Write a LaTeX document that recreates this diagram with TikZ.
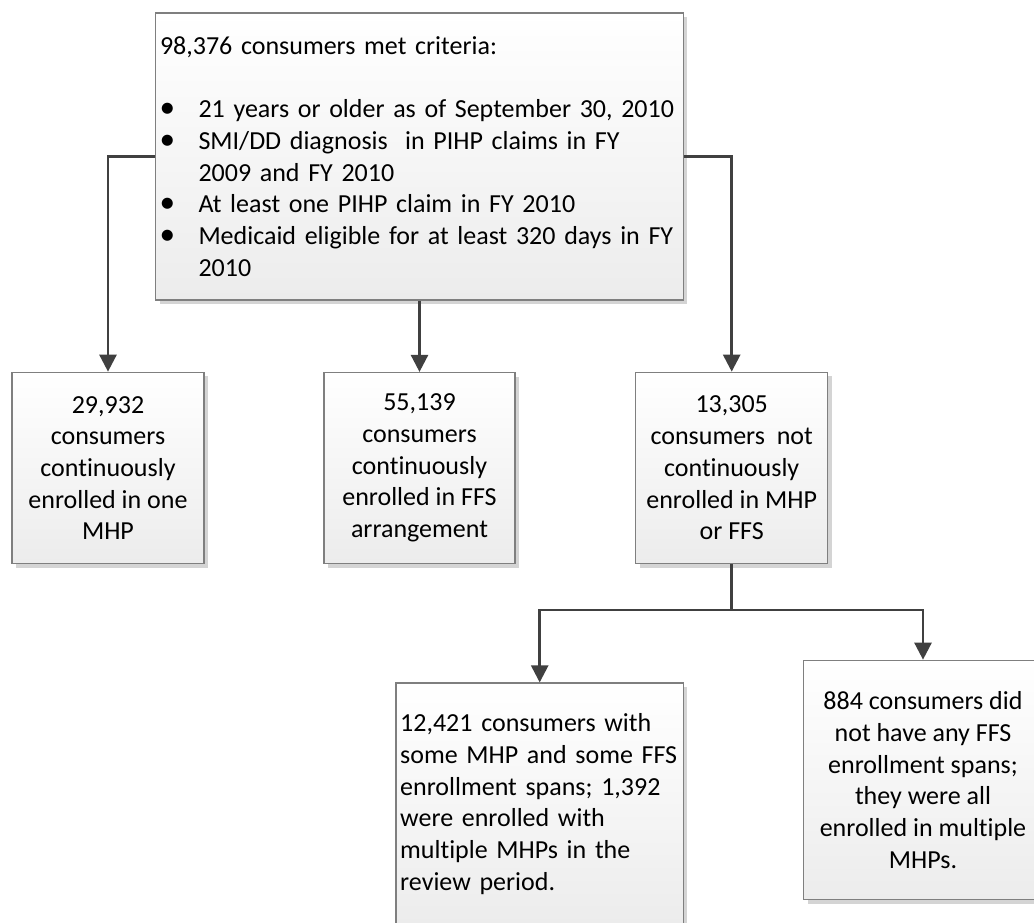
\documentclass[tikz,border=0pt]{standalone}
\usepackage{fontspec}
\setmainfont{Carlito}[Ligatures={NoCommon}]
\usetikzlibrary{arrows.meta,shadows}
\definecolor{connc}{HTML}{404040}
\definecolor{borderc}{HTML}{7F7F7F}
\definecolor{shadc}{HTML}{D4D4D4}
\definecolor{fillbot}{HTML}{ECECEC}
\newcommand{\bulitem}{\makebox[38.5pt][l]{\hspace{-0.5pt}\scalebox{1.2}{\textbullet}}}
\newcommand{\contind}{\hspace*{38.5pt}}
\begin{document}
\begin{tikzpicture}[x=1pt,y=-1pt,
  box/.style={rectangle, draw=borderc, line width=1.2pt, top color=white, bottom color=fillbot,
    drop shadow={shadow xshift=4pt,shadow yshift=-4pt,fill=shadc,opacity=1},
    inner sep=4pt, font=\fontsize{26}{31.7}\selectfont},
  conn/.style={draw=connc, line width=2.6pt, -{Triangle[width=17pt,length=17pt]}}]
\clip (0,0) rectangle (1034,922);
\fill[white] (0,0) rectangle (1034,922);
\node[box, minimum width=527.6pt, minimum height=287pt, text width=519pt, align=left] (top) at (419.5,156.5)
 {98,376 consumers met criteria:\\
  \mbox{}\\
  \mbox{\bulitem 21 years or older as of September 30, 2010}\\
  \mbox{\bulitem SMI/DD diagnosis\ \ in PIHP claims in FY}\\
  \mbox{\contind 2009 and FY 2010}\\
  \mbox{\bulitem At least one PIHP claim in FY 2010}\\
  \mbox{\bulitem Medicaid eligible for at least 320 days in FY}\\
  \mbox{\contind 2010}};
\node[box, minimum width=192pt, minimum height=191.5pt, align=center] (b1) at (108,468)
 {29,932\\consumers\\continuously\\enrolled in one\\MHP};
\node[box, minimum width=191pt, minimum height=191pt, align=center] (b2) at (419.5,468)
 {55,139\\consumers\\continuously\\enrolled in FFS\\arrangement};
\node[box, minimum width=192pt, minimum height=191.5pt, align=center] (b3) at (731.7,468)
 {13,305\\consumers\ \ not\\continuously\\enrolled in MHP\\or FFS};
\node[box, minimum width=287.3pt, minimum height=242pt, text width=279pt, align=left] (b4) at (539.7,804)
 {12,421 consumers with\\some MHP and some FFS\\enrollment spans; 1,392\\were enrolled with\\multiple MHPs in the\\review period.};
\node[box, minimum width=238.6pt, minimum height=239.5pt, align=center] (b5) at (923,780)
 {884 consumers did\\not have any FFS\\enrollment spans;\\they were all\\enrolled in multiple\\MHPs.};
\coordinate (split) at (731.7,610);
\draw[conn] (top.west) -| (b1.north);
\draw[conn] (top.east) -| (b3.north);
\draw[conn] (top.south) -- (b2.north);
\draw[conn] (b3.south) -- (split) -| (b4.north);
\draw[conn] (split) -| (b5.north);
\end{tikzpicture}
\end{document}
